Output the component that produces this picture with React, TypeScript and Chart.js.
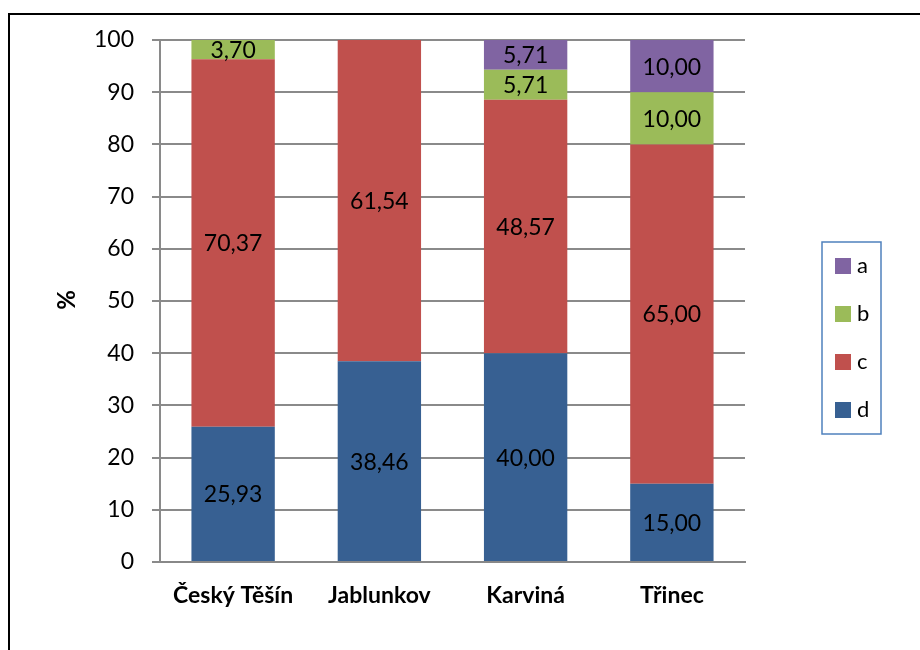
import React, { useEffect, useRef } from "react";
import { Chart, registerables } from "chart.js";

Chart.register(...registerables);

const categories = ["Český Těšín", "Jablunkov", "Karviná", "Třinec"];
const seriesD = [25.93, 38.46, 40.0, 15.0];
const seriesC = [70.37, 61.54, 48.57, 65.0];
const seriesB = [3.7, 0, 5.71, 10.0];
const seriesA = [0, 0, 5.71, 10.0];
const yTicks = [0, 10, 20, 30, 40, 50, 60, 70, 80, 90, 100];

const FONT = "Lato, 'Open Sans', sans-serif";

const framePlugin = {
  id: "frame",
  beforeDraw(chart: any) {
    const ctx = chart.ctx;
    ctx.save();
    ctx.fillStyle = "#ffffff";
    ctx.fillRect(0, 0, chart.width, chart.height);
    ctx.strokeStyle = "#000000";
    ctx.lineWidth = 2;
    ctx.strokeRect(9, 14, chart.width + 20, chart.height + 20);
    ctx.restore();
  },
};

const labelPlugin = {
  id: "segLabels",
  afterDatasetsDraw(chart: any) {
    const ctx = chart.ctx;
    ctx.save();
    ctx.font = `23px ${FONT}`;
    ctx.fillStyle = "#000000";
    ctx.textAlign = "center";
    ctx.textBaseline = "middle";
    chart.data.datasets.forEach((ds: any, di: number) => {
      const meta = chart.getDatasetMeta(di);
      meta.data.forEach((bar: any, i: number) => {
        const v = ds.data[i];
        if (!v) return;
        const p = bar.getProps(["x", "y", "base"], true);
        const y = (p.y + p.base) / 2;
        ctx.fillText(v.toFixed(2).replace(".", ","), p.x, y + 1);
      });
    });
    ctx.restore();
  },
};

const legendPlugin = {
  id: "customLegend",
  afterDraw(chart: any) {
    const ctx = chart.ctx;
    ctx.save();
    ctx.strokeStyle = "#4F81BD";
    ctx.lineWidth = 1.5;
    ctx.strokeRect(822, 242, 59, 192);
    const items = [...chart.data.datasets].reverse();
    ctx.font = `22px ${FONT}`;
    ctx.textAlign = "left";
    ctx.textBaseline = "middle";
    items.forEach((ds: any, i: number) => {
      const cy = 266 + i * 48;
      ctx.fillStyle = ds.backgroundColor;
      ctx.fillRect(835, cy - 8, 16, 16);
      ctx.fillStyle = "#000000";
      ctx.fillText(ds.label, 857, cy);
    });
    ctx.restore();
  },
};

const yTitlePlugin = {
  id: "yTitle",
  afterDraw(chart: any) {
    const ctx = chart.ctx;
    ctx.save();
    ctx.translate(67, 300);
    ctx.rotate(-Math.PI / 2);
    ctx.font = `bold 24px ${FONT}`;
    ctx.fillStyle = "#000000";
    ctx.textAlign = "center";
    ctx.textBaseline = "middle";
    ctx.fillText("%", 0, 0);
    ctx.restore();
  },
};

export default function App() {
  const ref = useRef<HTMLCanvasElement | null>(null);
  useEffect(() => {
    if (!ref.current) return;
    const mk = (label: string, data: number[], color: string) => ({
      label,
      data,
      backgroundColor: color,
      borderColor: color,
      borderWidth: 0,
      categoryPercentage: 1,
      barPercentage: 0.57,
    });
    const chart = new Chart(ref.current, {
      type: "bar",
      data: {
        labels: categories,
        datasets: [
          mk("d", seriesD, "#376092"),
          mk("c", seriesC, "#C0504D"),
          mk("b", seriesB, "#9BBB59"),
          mk("a", seriesA, "#8064A2"),
        ],
      },
      options: {
        animation: false,
        responsive: false,
        layout: { padding: { left: 0, right: 175, top: 40, bottom: 0 } },
        plugins: { legend: { display: false }, tooltip: { enabled: false } },
        scales: {
          x: {
            stacked: true,
            grid: { display: false, drawTicks: false },
            border: { display: true, color: "#888888", width: 2 },
            ticks: {
              color: "#000000",
              font: { family: FONT, size: 23, weight: "bold" },
              padding: 20,
            },
            afterFit(scale: any) {
              scale.height = 88;
            },
          },
          y: {
            stacked: true,
            min: 0,
            max: 100,
            afterBuildTicks(scale: any) {
              scale.ticks = yTicks.map((v) => ({ value: v }));
            },
            grid: { color: "#8a8a8a", lineWidth: 2, tickLength: 8 },
            border: { display: true, color: "#8a8a8a", width: 2 },
            ticks: {
              color: "#000000",
              font: { family: FONT, size: 23 },
              padding: 18,
            },
            afterFit(scale: any) {
              scale.width = 160;
            },
          },
        },
      },
      plugins: [framePlugin, labelPlugin, legendPlugin, yTitlePlugin],
    });
    return () => chart.destroy();
  }, []);
  return (
    <div style={{ position: "fixed", left: 0, top: 0, width: 920, height: 650 }}>
      <canvas ref={ref} width={920} height={650} style={{ width: 920, height: 650 }} />
    </div>
  );
}
